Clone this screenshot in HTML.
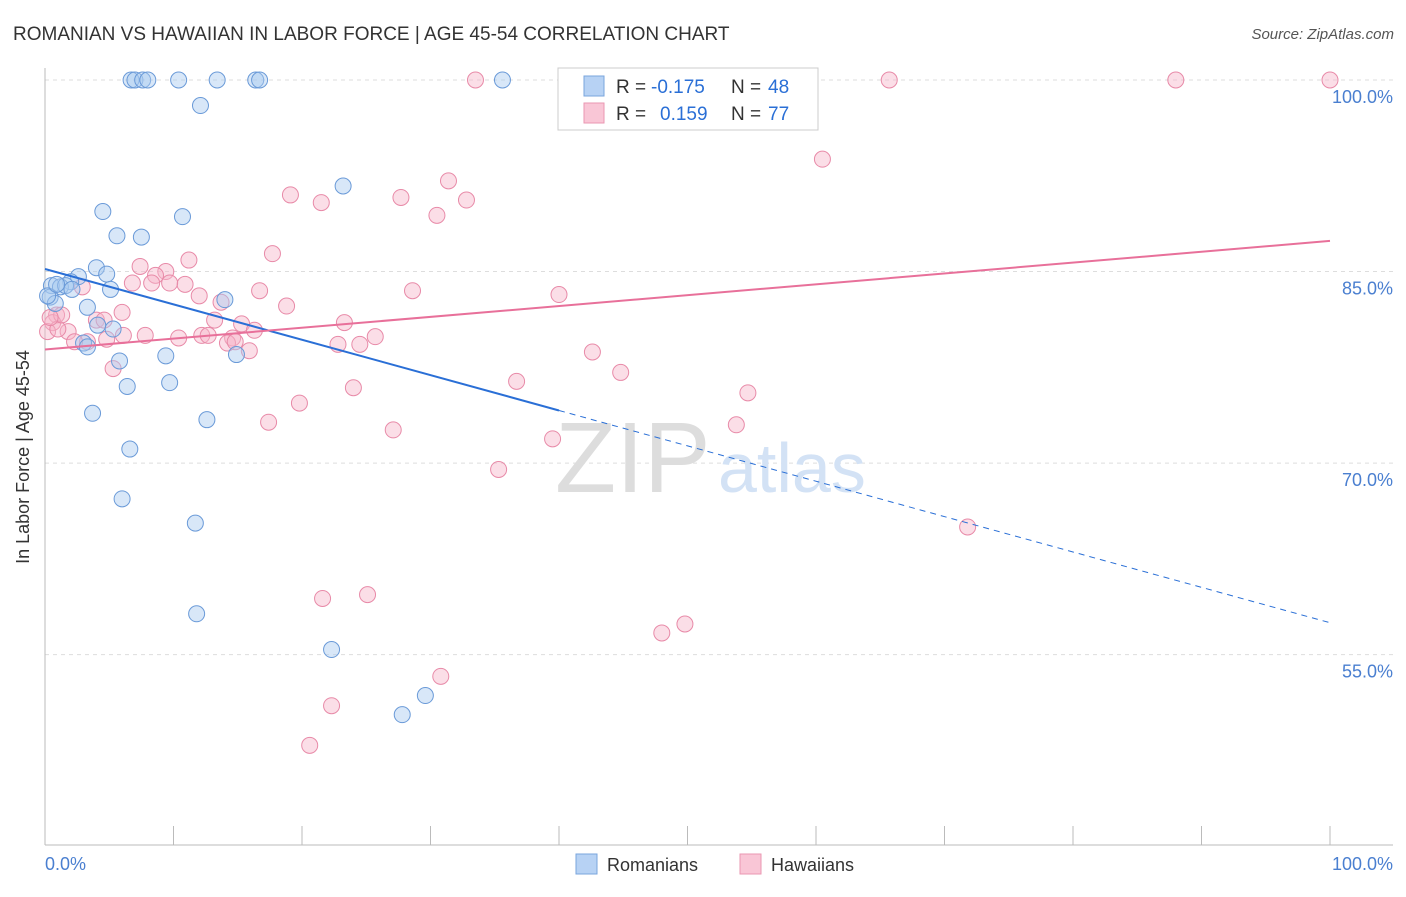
<!DOCTYPE html>
<html><head><meta charset="utf-8"><style>
body{margin:0;background:#fff;font-family:"Liberation Sans",sans-serif}
svg text{font-family:"Liberation Sans",sans-serif}
</style></head><body>
<svg id="chart" width="1406" height="892">
<text x="13" y="40" font-size="19" fill="#333">ROMANIAN VS HAWAIIAN IN LABOR FORCE | AGE 45-54 CORRELATION CHART</text>
<text x="1394" y="39" font-size="15" fill="#555" font-style="italic" text-anchor="end">Source: ZipAtlas.com</text>
<g id="grid"></g>
<text x="555" y="492" font-size="100" fill="#ddd" font-family="Liberation Serif">ZIP</text>
<text x="718" y="492" font-size="70" fill="#d3e2f5">atlas</text>
<line x1="45" y1="68" x2="45" y2="845" stroke="#bbb"/>
<line x1="45" y1="845" x2="1393" y2="845" stroke="#bbb"/>
<g id="ticks"></g>
<text x="29" y="457" font-size="18" fill="#333" text-anchor="middle" transform="rotate(-90 29 457)">In Labor Force | Age 45-54</text>
<text x="45" y="870" font-size="18" fill="#4a7fd0">0.0%</text>
<text x="1393" y="870" font-size="18" fill="#4a7fd0" text-anchor="end">100.0%</text>
<g id="points"></g>
<g id="lines"></g>
<g>
<rect x="558" y="68" width="260" height="62" fill="#fff" stroke="#ccc"/>
<rect x="584" y="76" width="20" height="20" fill="#b7d2f4" stroke="#7aa5dd"/>
<rect x="584" y="103" width="20" height="20" fill="#f9c6d6" stroke="#ea97b2"/>
<text y="93" font-size="19" fill="#333"><tspan x="616">R =</tspan><tspan x="651" fill="#2a6fd6">-0.175</tspan><tspan x="731">N =</tspan><tspan x="768" fill="#2a6fd6">48</tspan></text>
<text y="120" font-size="19" fill="#333"><tspan x="616">R =</tspan><tspan x="660" fill="#2a6fd6">0.159</tspan><tspan x="731">N =</tspan><tspan x="768" fill="#2a6fd6">77</tspan></text>
</g>
<g>
<rect x="576" y="854" width="21" height="20" fill="#b7d2f4" stroke="#7aa5dd"/>
<text x="607" y="871" font-size="18" fill="#333">Romanians</text>
<rect x="740" y="854" width="21" height="20" fill="#f9c6d6" stroke="#ea97b2"/>
<text x="771" y="871" font-size="18" fill="#333">Hawaiians</text>
</g>
</svg>
<script>
const yTicks=[100,85,70,55];
const yTickLabels=["100.0%","85.0%","70.0%","55.0%"];
const xTicks=[0,10,20,30,40,50,60,70,80,90,100];
const romX=[6.7,7.0,7.6,8.0,10.4,13.4,16.4,16.7,35.6,12.1,23.2,4.5,10.7,5.6,7.5,4.0,2.6,4.8,2.0,0.5,1.2,1.6,2.1,5.1,0.4,14.0,3.3,4.1,5.3,3.0,3.3,9.4,14.9,5.8,6.4,9.7,3.7,12.6,6.6,6.0,11.7,11.8,22.3,29.6,27.8,0.8,0.2,0.9];
const romY=[100,100,100,100,100,100,100,100,100,98.0,91.7,89.7,89.3,87.8,87.7,85.3,84.6,84.8,84.2,83.9,83.8,83.9,83.6,83.6,83.0,82.8,82.2,80.8,80.5,79.4,79.1,78.4,78.5,78.0,76.0,76.3,73.9,73.4,71.1,67.2,65.3,58.2,55.4,51.8,50.3,82.5,83.1,84.0];
const hawX=[33.5,50.6,65.7,88.0,100,60.5,31.4,19.1,27.7,21.5,32.8,30.5,17.7,11.2,7.4,9.4,8.6,8.3,6.8,10.9,16.7,2.9,12.0,28.6,40.0,13.7,18.8,0.9,6.0,4.0,13.2,23.3,15.3,0.6,0.2,1.8,16.3,25.7,6.1,7.8,10.4,12.2,12.7,14.6,3.3,2.3,4.8,14.2,22.8,24.5,15.9,5.3,42.6,44.8,36.7,24.0,54.7,19.8,17.4,27.1,53.8,39.5,35.3,71.8,21.6,25.1,49.8,48.0,30.8,22.3,20.6,1.0,1.3,4.6,9.7,14.8,0.4];
const hawY=[100,100,100,100,100,93.8,92.1,91.0,90.8,90.4,90.6,89.4,86.4,85.9,85.4,85.0,84.7,84.1,84.1,84.0,83.5,83.8,83.1,83.5,83.2,82.6,82.3,81.6,81.8,81.2,81.2,81.0,80.9,81.0,80.3,80.3,80.4,79.9,80.0,80.0,79.8,80.0,80.0,79.8,79.5,79.5,79.7,79.4,79.3,79.3,78.8,77.4,78.7,77.1,76.4,75.9,75.5,74.7,73.2,72.6,73.0,71.9,69.5,65.0,59.4,59.7,57.4,56.7,53.3,51.0,47.9,80.5,81.6,81.2,84.1,79.5,81.4];
const romLine=[85.2,-0.277];
const hawLine=[78.9,0.085];
const sx=v=>45+v*12.85, sy=v=>80+(100-v)*12.77;
const NS="http://www.w3.org/2000/svg";
function mk(tag,attrs,parent){const e=document.createElementNS(NS,tag);for(const k in attrs)e.setAttribute(k,attrs[k]);document.getElementById(parent).appendChild(e);return e;}
yTicks.forEach((t,i)=>{
 const g=mk('line',{x1:45,x2:1393,y1:sy(t),y2:sy(t),stroke:'#ddd','stroke-dasharray':'4,4'},'grid');
 
 
 const l=mk('text',{x:1393,y:sy(t)+23,'font-size':18,fill:'#4a7fd0','text-anchor':'end'},'grid');
 l.textContent=yTickLabels[i];
 
 
});
xTicks.forEach(t=>{
 const l=mk('line',{x1:sx(t),x2:sx(t),y1:826,y2:845,stroke:'#bbb'},'ticks');
 
 
});
function pts(xs,ys,fill,stroke,name){xs.forEach((x,i)=>{
 const c=mk('circle',{cx:sx(x),cy:sy(ys[i]),r:8,fill:fill,'fill-opacity':0.45,stroke:stroke,'stroke-width':1},'points');
 
 
});}
pts(hawX,hawY,'#f7b6ca','#e88aa8','hawaiian-point');
pts(romX,romY,'#a9c9f0','#6a9ad8','romanian-point');
const rf=x=>romLine[0]+romLine[1]*x, hf=x=>hawLine[0]+hawLine[1]*x;
let a=mk('line',{x1:sx(0),y1:sy(rf(0)),x2:sx(40),y2:sy(rf(40)),stroke:'#2a6fd6','stroke-width':2},'lines');


let b=mk('line',{x1:sx(40),y1:sy(rf(40)),x2:sx(100),y2:sy(rf(100)),stroke:'#2a6fd6','stroke-width':1,'stroke-dasharray':'6,5'},'lines');


let c=mk('line',{x1:sx(0),y1:sy(hf(0)),x2:sx(100),y2:sy(hf(100)),stroke:'#e8709a','stroke-width':2},'lines');


</script>
</body></html>
